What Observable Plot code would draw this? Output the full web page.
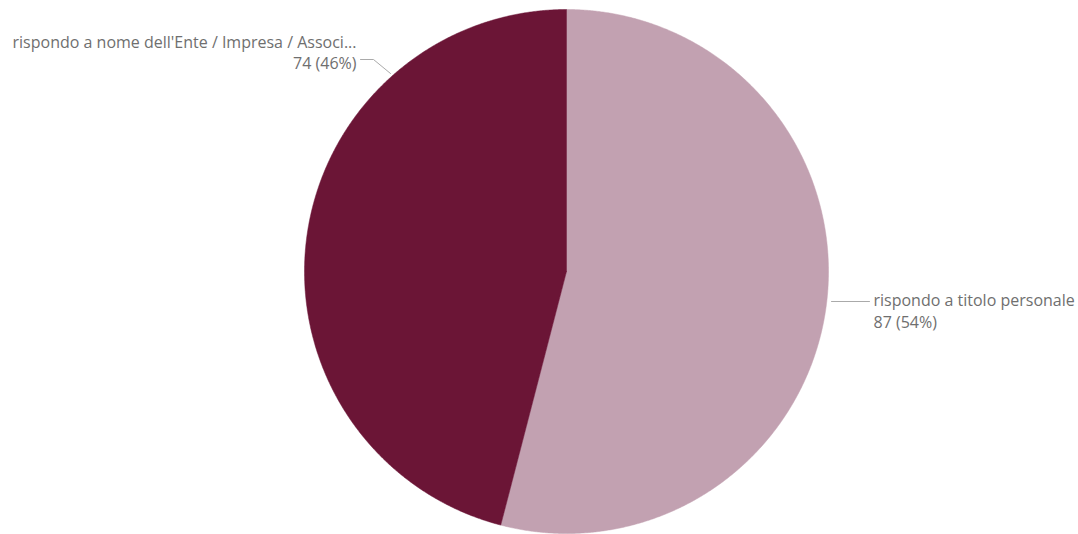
<!DOCTYPE html>
<html>
<head>
<meta charset="utf-8">
<script src="https://cdn.jsdelivr.net/npm/d3@7"></script>
<script src="https://cdn.jsdelivr.net/npm/@observablehq/plot@0.6"></script>
<style>
  html, body { margin: 0; padding: 0; background: #fff; }
  #chart svg { display: block; }
</style>
</head>
<body>
<div id="chart"></div>
<script>
// ---- data ----
const categories = ["rispondo a titolo personale", "rispondo a nome dell'Ente / Impresa / Associ..."];
const values = [87, 74];
const colors = ["#C2A1B1", "#6B1536"];

// ---- layout ----
const W = 1078, H = 534;
const cx = 566, cy = 271, R = 262;

const total = d3.sum(values);
const pie = d3.pie().sort(null).value(d => d.value);
const arcs = pie(categories.map((c, i) => ({category: c, value: values[i]})));

// polygon points of each slice, derived from the pie angles
const slicePts = [];
for (const a of arcs) {
  const n = Math.max(2, Math.ceil((a.endAngle - a.startAngle) / 0.005));
  slicePts.push({category: a.data.category, x: cx, y: cy});
  for (let k = 0; k <= n; k++) {
    const t = a.startAngle + (a.endAngle - a.startAngle) * k / n;
    slicePts.push({category: a.data.category, x: cx + R * Math.sin(t), y: cy - R * Math.cos(t)});
  }
  slicePts.push({category: a.data.category, x: cx, y: cy});
}

const fmt = (v) => `${v} (${Math.round(v / total * 100)}%)`;

// label placement (layout)
const rightLabels = [
  {x: 873, y: 300, text: categories[0]},
  {x: 873, y: 322, text: fmt(values[0])}
];
const leftLabels = [
  {x: 356, y: 42, text: categories[1]},
  {x: 356, y: 63, text: fmt(values[1])}
];
const leaders = [
  {g: "a", x: 831, y: 301}, {g: "a", x: 869, y: 301},
  {g: "b", x: 390, y: 73}, {g: "b", x: 373, y: 59}, {g: "b", x: 360, y: 59}
];

const textStyle = {fill: "#6f6f6f", fontSize: 16, fontFamily: "Open Sans, sans-serif"};

const chart = Plot.plot({
  width: W,
  height: H,
  margin: 0,
  x: {domain: [0, W], range: [0, W], axis: null},
  y: {domain: [0, H], range: [0, H], axis: null},
  color: {domain: categories, range: colors},
  marks: [
    Plot.line(slicePts, {x: "x", y: "y", z: "category", fill: "category", stroke: "category", strokeWidth: 0.5, curve: "linear"}),
    Plot.line(leaders, {x: "x", y: "y", z: "g", stroke: "#aaaaaa", strokeWidth: 1}),
    Plot.text(rightLabels, {x: "x", y: "y", text: "text", textAnchor: "start", ...textStyle}),
    Plot.text(leftLabels, {x: "x", y: "y", text: "text", textAnchor: "end", ...textStyle})
  ]
});
document.getElementById("chart").appendChild(chart);
</script>
</body>
</html>
